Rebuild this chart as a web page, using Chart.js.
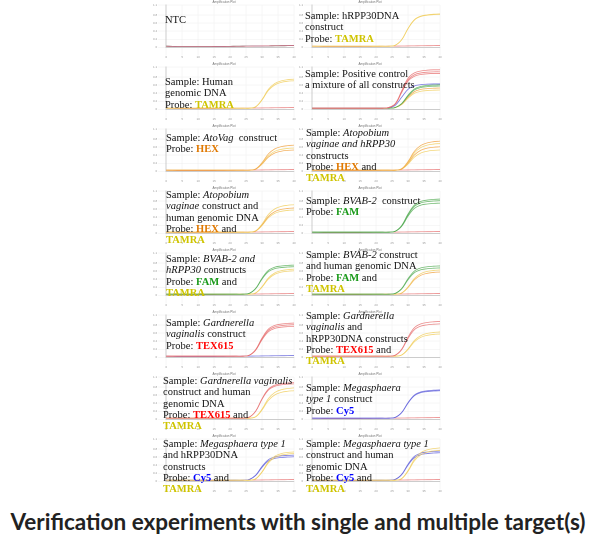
<!DOCTYPE html><html><head><meta charset="utf-8">
<script src="https://cdn.jsdelivr.net/npm/chart.js@4"></script>
<style>
body{margin:0;width:596px;height:540px;background:#fff;position:relative;overflow:hidden}
.p{position:absolute;width:144px;height:60px}
.p canvas{position:absolute;left:0;top:0}
.t{position:absolute;font:10.5px "Liberation Serif";line-height:11.3px;color:#111;white-space:nowrap}
.h{position:absolute;top:0;width:100%;text-align:center;font:3px sans-serif;color:#777}
#title{position:absolute;left:0;width:596px;top:508px;text-align:center;font:bold 22.5px Lato;color:#222}
.TAMRA{color:#cfc400;font-weight:bold}.HEX{color:#e07800;font-weight:bold}.FAM{color:#1a9a1a;font-weight:bold}.TEX{color:#ff0000;font-weight:bold}.Cy5{color:#0000ff;font-weight:bold}
</style></head><body>
<div id="title">Verification experiments with single and multiple target(s)</div>
<script>
const cycles=[0,2,4,6,8,10,12,14,16,18,20,22,24,26,28,30,32,34,36,38,40];
const early=[0,0,0,0,0,0,0,0,0,0,0,0,0.02,0.12,0.45,0.78,0.92,0.97,0.99,1,1];
const mid=[0,0,0,0,0,0,0,0,0,0,0,0,0,0.03,0.2,0.55,0.82,0.93,0.97,0.99,1];
const late=[0,0,0,0,0,0,0,0,0,0,0,0,0,0,0.05,0.3,0.65,0.85,0.94,0.98,1];
const flat=[0.03,0.025,0.02,0.02,0.02,0.02,0.02,0.02,0.022,0.024,0.026,0.028,0.03,0.032,0.034,0.036,0.038,0.04,0.042,0.044,0.046];
const C={y:'rgba(240,205,90,0.8)',o:'rgba(240,160,60,0.8)',r:'rgba(230,110,110,0.8)',g:'rgba(80,170,80,0.8)',b:'rgba(100,100,220,0.85)'};
const shapes={early,mid,late};
const panels=[
 {s:[['r','flat',0],['b','flat',0],['g','flat',0],['y','flat',0]]},
 {s:[['y','mid',0.8],['y','mid',0.79],['r','flat',0]]},
 {s:[['y','late',0.72],['y','late',0.68],['r','flat',0]]},
 {s:[['r','early',0.95],['r','early',0.9],['r','early',0.86],['b','early',0.6],['g','mid',0.58],['g','mid',0.55],['o','mid',0.5],['y','mid',0.45]]},
 {s:[['o','late',0.62],['y','late',0.55],['o','late',0.5],['r','flat',0]]},
 {s:[['o','late',0.72],['y','late',0.66],['o','late',0.58],['y','late',0.5],['r','flat',0]]},
 {s:[['y','late',0.68],['o','late',0.6],['y','late',0.55],['r','flat',0]]},
 {s:[['g','mid',0.82],['g','mid',0.78],['g','mid',0.72],['r','flat',0]]},
 {s:[['g','mid',0.72],['g','mid',0.68],['y','late',0.62],['y','late',0.58],['r','flat',0]]},
 {s:[['g','mid',0.7],['g','mid',0.65],['y','late',0.6],['o','late',0.55],['r','flat',0]]},
 {s:[['r','mid',0.82],['r','mid',0.78],['r','mid',0.74],['b','flat',0]]},
 {s:[['r','mid',0.86],['r','mid',0.8],['y','late',0.6],['y','late',0.55]]},
 {s:[['r','mid',0.88],['r','mid',0.85],['y','late',0.75],['y','late',0.68]]},
 {s:[['b','mid',0.7],['b','mid',0.68],['r','flat',0]]},
 {s:[['y','late',0.7],['y','late',0.66],['b','mid',0.62],['b','mid',0.58],['r','flat',0]]},
 {s:[['y','late',0.8],['y','late',0.74],['b','mid',0.72],['b','mid',0.68],['r','flat',0]]}
];
const texts=[
 [13,14,'NTC'],
 [7,10,'Sample: hRPP30DNA<br>construct<br>Probe: <span class=TAMRA>TAMRA</span>'],
 [13,14,'Sample: Human<br>genomic DNA<br>Probe: <span class=TAMRA>TAMRA</span>'],
 [7,6,'Sample: Positive control<br>a mixture of all constructs'],
 [14,8,'Sample: <i>AtoVag</i>&nbsp; construct<br>Probe: <span class=HEX>HEX</span>'],
 [8,3,'Sample: <i>Atopobium<br>vaginae and hRPP30</i><br>constructs<br>Probe: <span class=HEX>HEX</span> and<br><span class=TAMRA>TAMRA</span>'],
 [14,3,'Sample: <i>Atopobium<br>vaginae</i> construct and<br>human genomic DNA<br>Probe: <span class=HEX>HEX</span> and<br><span class=TAMRA>TAMRA</span>'],
 [8,9,'Sample: <i>BVAB-2</i>&nbsp; construct<br>Probe: <span class=FAM>FAM</span>'],
 [14,5,'Sample: <i>BVAB-2 and<br>hRPP30</i> constructs<br>Probe: <span class=FAM>FAM</span> and<br><span class=TAMRA>TAMRA</span>'],
 [8,1,'Sample: <i>BVAB-2</i> construct<br>and human genomic DNA<br>Probe: <span class=FAM>FAM</span> and<br><span class=TAMRA>TAMRA</span>'],
 [14,7,'Sample: <i>Gardnerella<br>vaginalis</i> construct<br>Probe: <span class=TEX>TEX615</span>'],
 [8,0,'Sample: <i>Gardnerella<br>vaginalis</i> and<br>hRPP30DNA constructs<br>Probe: <span class=TEX>TEX615</span> and<br><span class=TAMRA>TAMRA</span>'],
 [11,3,'Sample: <i>Gardnerella vaginalis</i><br>construct and human<br>genomic DNA<br>Probe: <span class=TEX>TEX615</span> and<br><span class=TAMRA>TAMRA</span>'],
 [8,10,'Sample: <i>Megasphaera<br>type 1</i> construct<br>Probe: <span class=Cy5>Cy5</span>'],
 [11,4,'Sample: <i>Megasphaera type 1</i><br>and hRPP30DNA<br>constructs<br>Probe: <span class=Cy5>Cy5</span> and<br><span class=TAMRA>TAMRA</span>'],
 [8,4,'Sample: <i>Megasphaera type 1</i><br>construct and human<br>genomic DNA<br>Probe: <span class=Cy5>Cy5</span> and<br><span class=TAMRA>TAMRA</span>']
];
const rowsY=[0,62,124,186,248,310,372,434];
panels.forEach((p,i)=>{
 const d=document.createElement('div');d.className='p';
 d.style.left=(i%2?298:152)+'px';d.style.top=rowsY[Math.floor(i/2)]+'px';
 const cv=document.createElement('canvas');cv.width=144;cv.height=60;cv.style.width='144px';cv.style.height='60px';
 d.appendChild(cv);
 const h=document.createElement('div');h.className='h';h.textContent='Amplification Plot';d.appendChild(h);
 const t=document.createElement('div');t.className='t';t.style.left=texts[i][0]+'px';t.style.top=texts[i][1]+'px';t.innerHTML=texts[i][2];d.appendChild(t);
 document.body.appendChild(d);
 new Chart(cv,{type:'line',data:{labels:cycles,datasets:p.s.map(([c,sh,pl])=>({data:sh==='flat'?flat:shapes[sh].map(v=>0.03+v*pl),borderColor:C[c],borderWidth:0.8,pointRadius:0,tension:0.4,fill:false}))},
 options:{responsive:false,animation:false,devicePixelRatio:2,layout:{padding:{top:5,right:2,bottom:1,left:0}},plugins:{legend:{display:false},tooltip:{enabled:false}},
 scales:{x:{type:'linear',min:0,max:40,grid:{color:'#eee',lineWidth:0.5},border:{color:'#ccc'},ticks:{font:{size:3},color:'#999',stepSize:5,padding:0}},
 y:{min:0,max:1.05,grid:{color:'#eee',lineWidth:0.5},border:{color:'#ccc'},ticks:{font:{size:3},color:'#999',stepSize:0.2,padding:1}}}}});
});
</script></body></html>
